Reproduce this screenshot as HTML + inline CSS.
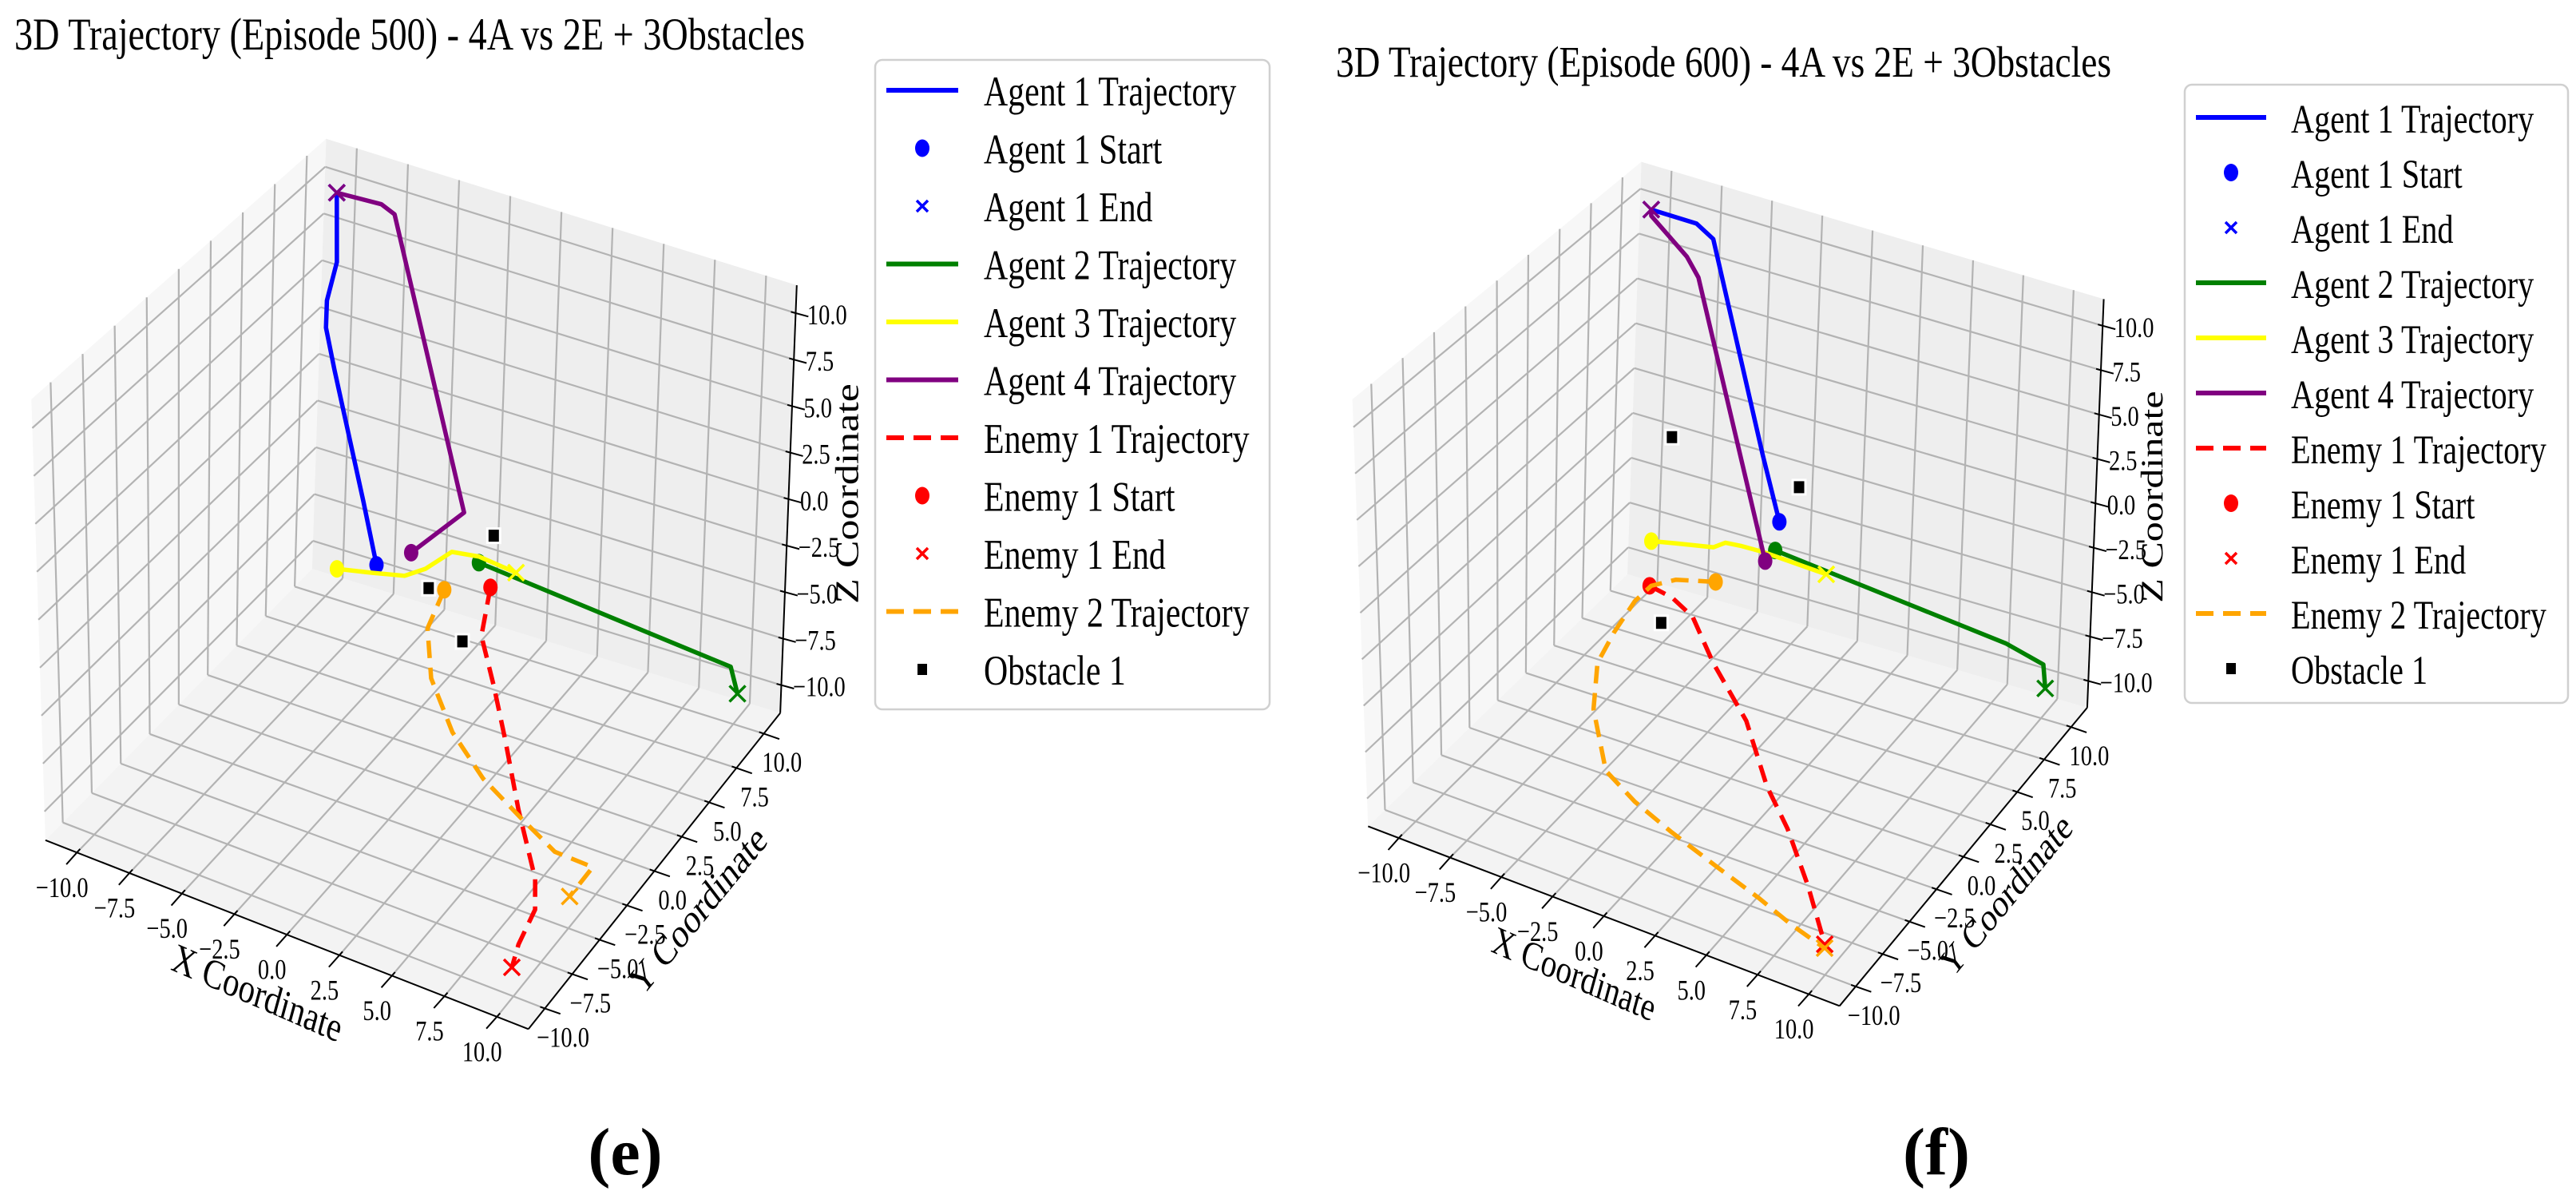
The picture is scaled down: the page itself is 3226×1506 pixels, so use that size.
<!DOCTYPE html>
<html><head><meta charset="utf-8"><style>
html,body{margin:0;padding:0;background:#fff;}
svg{display:block;}
text{font-family:"Liberation Serif","DejaVu Serif",serif;fill:#000;}
</style></head>
<body>
<svg id="fig" xmlns="http://www.w3.org/2000/svg" width="3226" height="1506" viewBox="0 0 3226 1506">
  <rect x="0" y="0" width="3226" height="1506" fill="#ffffff"/>
  <g id="panelE"></g>
  <g id="panelF"></g>
  <text x="18" y="62" font-size="57" textLength="990" lengthAdjust="spacingAndGlyphs">3D Trajectory (Episode 500) - 4A vs 2E + 3Obstacles</text>
  <text x="1673" y="96" font-size="55" textLength="971" lengthAdjust="spacingAndGlyphs">3D Trajectory (Episode 600) - 4A vs 2E + 3Obstacles</text>
  <text x="783" y="1470" font-size="84" font-weight="bold" text-anchor="middle">(e)</text>
  <text x="2425" y="1470" font-size="84" font-weight="bold" text-anchor="middle">(f)</text>
</svg>
<script>
// ---------------- DATA (3D coordinates: [x, y, z]) ----------------
const tickValues = [-10, -7.5, -5, -2.5, 0, 2.5, 5, 7.5, 10];
const tickLabels = ['\u221210.0', '\u22127.5', '\u22125.0', '\u22122.5', '0.0', '2.5', '5.0', '7.5', '10.0'];
const legendLabels = ['Agent 1 Trajectory', 'Agent 1 Start', 'Agent 1 End', 'Agent 2 Trajectory', 'Agent 3 Trajectory', 'Agent 4 Trajectory', 'Enemy 1 Trajectory', 'Enemy 1 Start', 'Enemy 1 End', 'Enemy 2 Trajectory', 'Obstacle 1'];

const e500_agent1 = [[-3.76,2.88,-3],[-4.91,3.70,-0.6],[-7.36,5.39,4.3],[-8.11,5.93,5.9],[-8.37,6.44,6.9],[-8.37,7.25,8.4],[-9.10,8.45,11]];
const e500_agent2 = [[-0.64,6.29,-4],[10.30,8.73,-7],[10.54,8.96,-8.5]];
const e500_agent3 = [[-5.69,2.95,-4],[-4.28,3.44,-4],[-2.96,3.95,-4],[-2.42,4.80,-4],[-2.00,6.37,-4],[-0.84,6.66,-4],[1.06,6.47,-4]];
const e500_agent4 = [[-2.58,3.77,-2.5],[-0.45,4.44,0],[-6.85,9.50,10],[-7.37,9.26,10.5],[-9.10,8.45,11]];
const e500_enemy1 = [[0.00,6.19,-5],[0.96,3.66,-5.5],[2.77,1.48,-6],[4.37,-0.38,-7],[5.94,-1.99,-9],[8.24,-4.66,-10],[9.25,-6.51,-10],[9.48,-8.37,-10.5],[9.69,-9.32,-11]];
const e500_enemy2 = [[-1.63,5.08,-5],[-1.58,3.56,-6],[-0.40,1.77,-7],[1.56,0.12,-8],[3.62,-0.88,-9],[5.66,-1.28,-10],[8.08,-2.63,-10],[9.69,-2.19,-10.5],[9.50,-3.86,-11]];
const e500_obstacles = [[0.81,4.81,-1],[-2.26,4.85,-5],[0.14,3.50,-6]];

const e600_agent1 = [[-0.93,5.71,-1],[-2.12,6.24,2],[-6.79,9.95,10],[-7.67,10.02,10.5],[-9.58,9.38,11]];
const e600_agent2 = [[-1.89,7.23,-4],[8.36,9.58,-7],[9.90,10.17,-8],[9.91,10.39,-9.5]];
const e600_agent3 = [[-6.92,5.19,-4],[-5.90,5.57,-4],[-4.35,6.11,-4],[-4.05,6.67,-4],[-3.37,6.79,-4],[-2.31,6.87,-4],[0.89,6.77,-4]];
const e600_agent4 = [[-1.29,5.17,-3],[-6.90,8.87,8.5],[-7.59,9.05,9.3],[-9.48,9.21,10.8],[-9.58,9.38,11]];
const e600_enemy1 = [[-6.01,3.41,-5],[-4.75,3.13,-5],[-3.59,2.90,-5.5],[-1.48,0.92,-6],[1.22,-0.98,-7],[3.71,-3.63,-8],[5.39,-4.79,-9],[7.61,-6.94,-10],[9.68,-9.19,-11]];
const e600_enemy2 = [[-3.64,5.07,-5],[-5.22,4.37,-5],[-5.95,3.44,-5],[-6.33,2.67,-5.5],[-6.32,0.80,-6],[-6.47,-0.40,-7],[-5.59,-2.33,-8],[-3.55,-4.91,-9],[-1.66,-5.72,-9.5],[0.54,-6.35,-10],[3.48,-7.63,-10],[5.84,-8.17,-10.5],[7.74,-8.64,-11],[9.81,-9.44,-11]];
const e600_obstacles = [[-4.98,3.14,4],[-0.20,6.07,1],[-4.26,1.25,-5]];

// ---------------- GEOMETRY ----------------
const NS = 'http://www.w3.org/2000/svg';
const LIM = 11.5, SX = 1.034, SY = 0.965;
const panels = [
  { g: 'panelE', ox: 0, C: [512.5,742.5], ex: [287.5,107.5], ey: [157.5,-190], ez: [7.5,-280],
    floor: [[55,1090],[640,1335],[945,925],[378,738]],
    xpane: [[55,1090],[378,738],[395,180],[38,518]],
    ypane: [[378,738],[945,925],[965,370],[395,180]],
    series: [e500_agent1, e500_agent2, e500_agent3, e500_agent4, e500_enemy1, e500_enemy2], obs: e500_obstacles,
    legend: { x: 1096, y: 75, w: 494, h: 813, tx: 1232, l0: 1110, l1: 1200, mx: 1155, b0: 132, dy: 72.5, fs: 53 },
    labels: { z: [1065,618], x: [321,1248], y: [877,1143], fs: 52 } },
  { g: 'panelF', ox: 1613, C: [542.5,749.5], ex: [281,99], ey: [153,-176], ez: [7,-263],
    floor: [[97,1072],[668,1305],[968,918],[411,745]],
    xpane: [[97,1072],[411,745],[428,210],[78,518]],
    ypane: [[411,745],[968,918],[988,388],[428,210]],
    series: [e600_agent1, e600_agent2, e600_agent3, e600_agent4, e600_enemy1, e600_enemy2], obs: e600_obstacles,
    legend: { x: 2736, y: 106, w: 480, h: 774, tx: 2869, l0: 2750, l1: 2838, mx: 2794, b0: 166, dy: 69, fs: 51 },
    labels: { z: [2699,622], x: [1970,1224], y: [2515,1124], fs: 50 } }
];
const seriesColors = ['#0000ff', '#008000', '#ffff00', '#800080', '#ff0000', '#ffa500'];
const seriesNames = ['agent-1', 'agent-2', 'agent-3', 'agent-4', 'enemy-1', 'enemy-2'];

function mk(parent, tag, attrs) {
  const el = document.createElementNS(NS, tag);
  for (const k in attrs) el.setAttribute(k, attrs[k]);
  parent.appendChild(el);
  return el;
}
function toOrig(p, d) { return [p.ox + d[0] * SX, d[1] * SY]; }
function proj(p, v) {
  const u = v[0] / LIM, w = v[1] / LIM, h = v[2] / LIM;
  const d = [p.C[0] + u * p.ex[0] + w * p.ey[0] + h * p.ez[0], p.C[1] + u * p.ex[1] + w * p.ey[1] + h * p.ez[1]];
  return toOrig(p, d);
}
function bil(q, s, t) {
  const a = [q[0][0] + (q[1][0] - q[0][0]) * s, q[0][1] + (q[1][1] - q[0][1]) * s];
  const b = [q[3][0] + (q[2][0] - q[3][0]) * s, q[3][1] + (q[2][1] - q[3][1]) * s];
  return [a[0] + (b[0] - a[0]) * t, a[1] + (b[1] - a[1]) * t];
}
function tpar(v) { return (v + LIM) / (2 * LIM); }
function label(parent, x, y, str, size, rot, anchor, name) {
  const t = mk(parent, 'text', { transform: 'translate(' + x + ',' + y + ') scale(0.79,1) rotate(' + rot + ')', 'font-size': size, 'text-anchor': anchor, 'dominant-baseline': 'middle' });
  
  
  t.textContent = str;
  return t;
}
function drawPane(p, g, q, fill, name) {
  const pts = q.map(c => toOrig(p, c).join(',')).join(' ');
  const poly = mk(g, 'polygon', { points: pts, fill: fill, stroke: 'none' });
  
  
  tickValues.forEach((v, i) => {
    const s = tpar(v);
    const a1 = toOrig(p, bil(q, s, 0)), a2 = toOrig(p, bil(q, s, 1));
    const l1 = mk(g, 'line', { x1: a1[0], y1: a1[1], x2: a2[0], y2: a2[1], stroke: '#b3b3b3', 'stroke-width': 2.2 });
    
    
    const b1 = toOrig(p, bil(q, 0, s)), b2 = toOrig(p, bil(q, 1, s));
    const l2 = mk(g, 'line', { x1: b1[0], y1: b1[1], x2: b2[0], y2: b2[1], stroke: '#b3b3b3', 'stroke-width': 2.2 });
    
    
  });
}
function startDot(g, c, color, name) {
  const e = mk(g, 'ellipse', { cx: c[0], cy: c[1], rx: 9, ry: 11, fill: color });
  
  
}
function endCross(g, c, color, name, r) {
  const e = mk(g, 'path', { d: 'M' + (c[0] - r) + ',' + (c[1] - r) + 'L' + (c[0] + r) + ',' + (c[1] + r) + 'M' + (c[0] - r) + ',' + (c[1] + r) + 'L' + (c[0] + r) + ',' + (c[1] - r), stroke: color, 'stroke-width': 3.5, fill: 'none' });
  
  
}

panels.forEach(p => {
  const g = document.getElementById(p.g);
  drawPane(p, g, p.floor, '#f3f3f3', 'floor-pane');
  drawPane(p, g, p.xpane, '#f7f7f7', 'left-pane');
  drawPane(p, g, p.ypane, '#eeeeee', 'back-pane');

  // axes lines
  const axes = [
    ['x-axis-line', p.floor[0], p.floor[1]],
    ['y-axis-line', p.floor[1], p.floor[2]],
    ['z-axis-line', p.ypane[1], p.ypane[2]]
  ];
  axes.forEach(a => {
    const s = toOrig(p, a[1]), e = toOrig(p, a[2]);
    const l = mk(g, 'line', { x1: s[0], y1: s[1], x2: e[0], y2: e[1], stroke: '#000', 'stroke-width': 2 });
    
    
  });

  // ticks
  tickValues.forEach((v, i) => {
    const t = tpar(v);
    // X
    const px = bil([p.floor[0], p.floor[1], p.floor[1], p.floor[0]], t, 0);
    const xd = [-0.64, 0.77];
    let a = toOrig(p, [px[0] - xd[0] * 6, px[1] - xd[1] * 6]), b = toOrig(p, [px[0] + xd[0] * 20, px[1] + xd[1] * 20]);
    const tx = mk(g, 'line', { x1: a[0], y1: a[1], x2: b[0], y2: b[1], stroke: '#000', 'stroke-width': 2 });
    
    
    let lp = toOrig(p, [px[0] - 18, px[1] + 49]);
    label(g, lp[0], lp[1], tickLabels[i], 36, 0, 'middle', 'x-tick-label');
    // Y
    const py = bil([p.floor[1], p.floor[2], p.floor[2], p.floor[1]], t, 0);
    const yd = [0.94, 0.35];
    a = toOrig(p, [py[0] - yd[0] * 6, py[1] - yd[1] * 6]); b = toOrig(p, [py[0] + yd[0] * 20, py[1] + yd[1] * 20]);
    const ty = mk(g, 'line', { x1: a[0], y1: a[1], x2: b[0], y2: b[1], stroke: '#000', 'stroke-width': 2 });
    
    
    lp = toOrig(p, [py[0] + 22, py[1] + 41]);
    label(g, lp[0], lp[1], tickLabels[i], 36, 0, 'middle', 'y-tick-label');
    // Z
    const pz = bil([p.ypane[1], p.ypane[2], p.ypane[2], p.ypane[1]], t, 0);
    const zd = [0.96, 0.28];
    a = toOrig(p, [pz[0] - zd[0] * 6, pz[1] - zd[1] * 6]); b = toOrig(p, [pz[0] + zd[0] * 16, pz[1] + zd[1] * 16]);
    const tz = mk(g, 'line', { x1: a[0], y1: a[1], x2: b[0], y2: b[1], stroke: '#000', 'stroke-width': 2 });
    
    
    lp = toOrig(p, [pz[0] + 14, pz[1] + 6]);
    label(g, lp[0], lp[1], tickLabels[i], 36, 0, 'start', 'z-tick-label');
  });

  // axis titles
  label(g, p.labels.x[0], p.labels.x[1], 'X Coordinate', p.labels.fs, 19, 'middle', 'x-axis-title');
  label(g, p.labels.y[0], p.labels.y[1], 'Y Coordinate', p.labels.fs, -44, 'middle', 'y-axis-title');
  label(g, p.labels.z[0], p.labels.z[1], 'Z Coordinate', p.labels.fs, -90, 'middle', 'z-axis-title');

  // trajectories
  p.series.forEach((arr, si) => {
    const pts = arr.map(v => proj(p, v));
    const attrs = { points: pts.map(q => q.join(',')).join(' '), fill: 'none', stroke: seriesColors[si], 'stroke-width': 5.5, 'stroke-linejoin': 'round' };
    if (si >= 4) attrs['stroke-dasharray'] = '22 12';
    const pl = mk(g, 'polyline', attrs);
    
    
    startDot(g, pts[0], seriesColors[si], seriesNames[si] + '-start');
    endCross(g, pts[pts.length - 1], seriesColors[si], seriesNames[si] + '-end', 10);
  });
  // obstacles
  p.obs.forEach(v => {
    const c = proj(p, v);
    const r = mk(g, 'rect', { x: c[0] - 8, y: c[1] - 9, width: 16, height: 18, fill: '#000', stroke: '#fff', 'stroke-width': 3 });
    
    
  });

  // legend
  const L = p.legend;
  const lg = mk(g, 'g', {});
  
  
  const box = mk(lg, 'rect', { x: L.x, y: L.y, width: L.w, height: L.h, rx: 9, fill: '#fff', stroke: '#d0d0d0', 'stroke-width': 2.5 });
  
  
  const kinds = ['line', 'dot', 'cross', 'line', 'line', 'line', 'dash', 'dot', 'cross', 'dash', 'square'];
  const kcol = ['#0000ff', '#0000ff', '#0000ff', '#008000', '#ffff00', '#800080', '#ff0000', '#ff0000', '#ff0000', '#ffa500', '#000000'];
  legendLabels.forEach((txt, i) => {
    const base = L.b0 + i * L.dy, cy = base - 19;
    const k = kinds[i];
    if (k === 'line' || k === 'dash') {
      const attrs = { x1: L.l0, y1: cy, x2: L.l1, y2: cy, stroke: kcol[i], 'stroke-width': 6 };
      if (k === 'dash') attrs['stroke-dasharray'] = '22 12';
      const ln = mk(lg, 'line', attrs);
      
      
    } else if (k === 'dot') {
      startDot(lg, [L.mx, cy], kcol[i], 'legend-swatch');
    } else if (k === 'cross') {
      endCross(lg, [L.mx, cy], kcol[i], 'legend-swatch', 7);
    } else {
      const sq = mk(lg, 'rect', { x: L.mx - 6, y: cy - 7, width: 12, height: 14, fill: '#000' });
      
      
    }
    const t = mk(lg, 'text', { transform: 'translate(' + L.tx + ',' + base + ') scale(0.79,1)', 'font-size': L.fs });
    
    
    t.textContent = txt;
  });
});
</script>
</body></html>
